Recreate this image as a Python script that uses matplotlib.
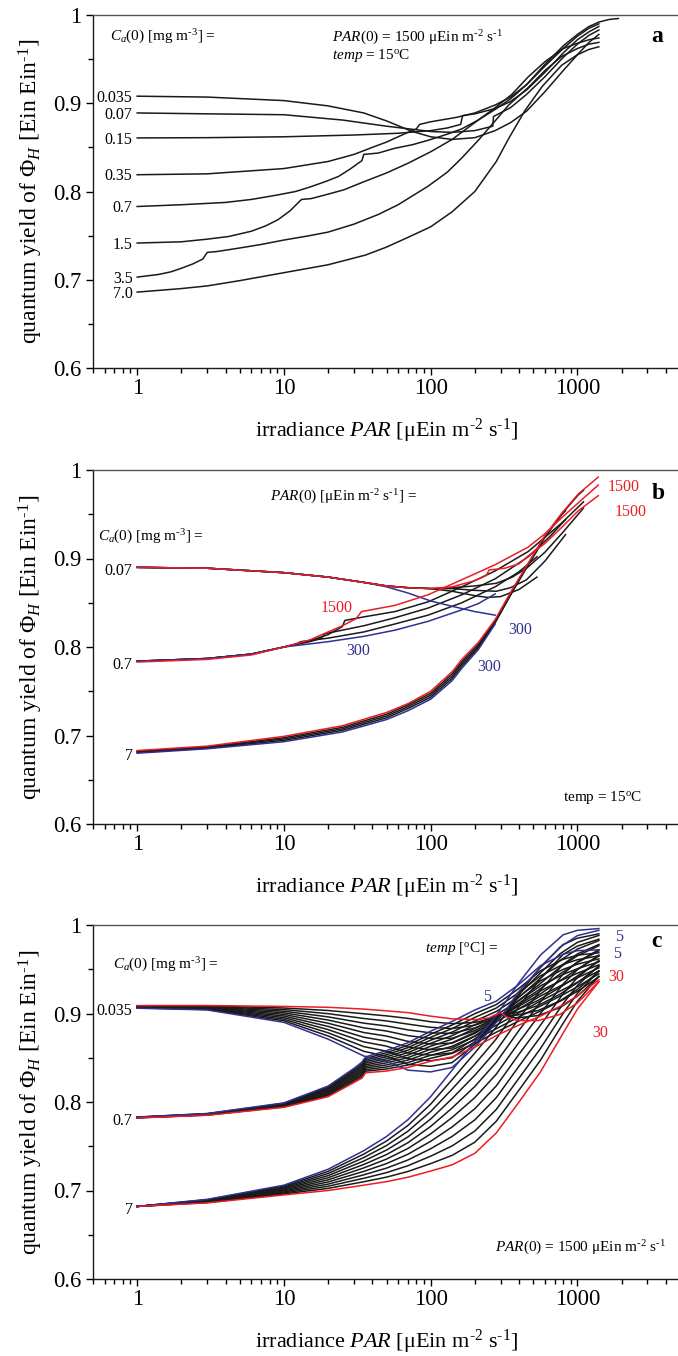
import matplotlib
matplotlib.use("Agg")
import matplotlib.pyplot as plt
from matplotlib.ticker import LogLocator, NullFormatter, FixedLocator, FuncFormatter

plt.rcParams['font.family'] = ['Liberation Serif', 'DejaVu Serif']
plt.rcParams['mathtext.fontset'] = 'custom'
plt.rcParams['mathtext.rm'] = 'Liberation Serif'
plt.rcParams['mathtext.it'] = 'Liberation Serif:italic'
plt.rcParams['mathtext.bf'] = 'Liberation Serif:bold'

BLACK = '#1a1a1a'
BLUE = '#2e3192'
RED = '#ed1c24'

# ---------------- panel a : PAR(0)=1500, temp=15 C, various Ca(0) ----------------
a_labels = ['0.035', '0.07', '0.15', '0.35', '0.7', '1.5', '3.5', '7.0']
a_0035_P = [1, 3, 10, 20, 35, 50, 75, 100, 140, 200, 275, 350, 450, 600, 800, 1000, 1200, 1400]
a_0035_F = [0.908, 0.907, 0.903, 0.897, 0.889, 0.880, 0.868, 0.862, 0.859, 0.861, 0.869, 0.878, 0.891, 0.913, 0.937, 0.955, 0.969, 0.978]
a_007_P = [1, 3, 10, 25, 50, 100, 140, 200, 265, 268, 350, 450, 600, 800, 1000, 1200, 1400]
a_007_F = [0.889, 0.888, 0.887, 0.881, 0.874, 0.868, 0.867, 0.869, 0.874, 0.885, 0.895, 0.910, 0.930, 0.952, 0.967, 0.977, 0.983]
a_015_P = [1, 3, 10, 30, 60, 100, 130, 160, 165, 200, 275, 350, 450, 600, 800, 1000, 1200, 1400]
a_015_F = [0.8607, 0.861, 0.862, 0.864, 0.866, 0.869, 0.872, 0.876, 0.886, 0.888, 0.894, 0.902, 0.915, 0.935, 0.957, 0.972, 0.981, 0.987]
a_035_P = [1, 3, 10, 20, 30, 40, 50, 60, 70, 80, 84, 100, 150, 200, 275, 350, 450, 600, 800, 1000, 1200, 1400]
a_035_F = [0.819, 0.820, 0.826, 0.834, 0.842, 0.850, 0.856, 0.862, 0.867, 0.871, 0.876, 0.879, 0.884, 0.889, 0.898, 0.907, 0.921, 0.942, 0.962, 0.976, 0.985, 0.990]
a_07_P = [1, 2, 4, 6, 9, 12, 15, 19, 23.5, 28, 34, 35, 44, 57, 75, 96, 130, 163, 211, 275, 350, 450, 600, 800, 1000, 1200, 1400, 1650, 1900]
a_07_F = [0.783, 0.785, 0.7876, 0.791, 0.796, 0.800, 0.805, 0.811, 0.817, 0.825, 0.835, 0.842, 0.8436, 0.849, 0.853, 0.858, 0.865, 0.871, 0.881, 0.893, 0.905, 0.921, 0.944, 0.965, 0.978, 0.987, 0.992, 0.995, 0.996]
a_15_P = [1, 2, 3, 4.2, 6, 7.5, 9.1, 11, 12.8, 13.2, 15.4, 20, 25.7, 35, 50, 70, 100, 140, 196, 275, 357, 463, 600, 800, 1000, 1200, 1400]
a_15_F = [0.7416, 0.743, 0.746, 0.749, 0.755, 0.761, 0.768, 0.778, 0.789, 0.791, 0.792, 0.797, 0.802, 0.811, 0.821, 0.832, 0.845, 0.859, 0.877, 0.895, 0.910, 0.930, 0.947, 0.962, 0.968, 0.972, 0.974]
a_35_P = [1, 1.4, 1.7, 2.0, 2.4, 2.8, 3.0, 3.5, 5, 7, 10, 15, 20, 30, 44, 60, 96, 130, 163, 211, 275, 340, 463, 600, 780, 1000, 1200, 1400]
a_35_F = [0.703, 0.706, 0.709, 0.713, 0.718, 0.7235, 0.731, 0.732, 0.736, 0.740, 0.745, 0.750, 0.754, 0.763, 0.774, 0.785, 0.806, 0.822, 0.838, 0.858, 0.880, 0.898, 0.918, 0.937, 0.953, 0.962, 0.967, 0.969]
a_70_P = [1, 2, 3, 5, 10, 20, 36, 50, 70, 100, 140, 200, 280, 340, 440, 575, 780, 1000, 1200, 1400]
a_70_F = [0.686, 0.690, 0.693, 0.699, 0.708, 0.717, 0.728, 0.737, 0.748, 0.760, 0.777, 0.800, 0.834, 0.860, 0.892, 0.919, 0.943, 0.955, 0.961, 0.964]

# ---------------- panel b : temp=15 C, PAR(0)=300 (blue) ... 1500 (red) ----------------
b_labels = ['0.07', '0.7', '7']
b_par0 = [300, 600, 900, 1200, 1500]
b007_P = {
    300:  [1, 3, 10, 20, 35, 50, 70, 100, 140, 200, 275],
    600:  [1, 3, 10, 20, 35, 50, 70, 100, 140, 200, 245, 300, 400, 530],
    900:  [1, 3, 10, 20, 35, 50, 70, 100, 140, 200, 280, 350, 450, 600, 830],
    1200: [1, 3, 10, 20, 35, 50, 70, 100, 140, 200, 280, 360, 450, 600, 800, 1100],
    1500: [1, 3, 10, 20, 35, 50, 70, 100, 140, 200, 240, 250, 320, 400, 463, 600, 780, 1015, 1387],
}
b007_F = {
    300:  [0.890, 0.889, 0.884, 0.879, 0.873, 0.868, 0.861, 0.852, 0.846, 0.840, 0.836],
    600:  [0.890, 0.889, 0.884, 0.879, 0.873, 0.869, 0.867, 0.866, 0.863, 0.858, 0.856, 0.857, 0.865, 0.879],
    900:  [0.890, 0.889, 0.884, 0.879, 0.873, 0.869, 0.867, 0.866, 0.866, 0.864, 0.863, 0.867, 0.876, 0.897, 0.927],
    1200: [0.890, 0.889, 0.884, 0.879, 0.873, 0.869, 0.867, 0.866, 0.867, 0.869, 0.872, 0.879, 0.889, 0.907, 0.930, 0.957],
    1500: [0.890, 0.889, 0.884, 0.879, 0.873, 0.869, 0.867, 0.866, 0.868, 0.875, 0.881, 0.887, 0.889, 0.894, 0.903, 0.917, 0.935, 0.954, 0.971],
}
b07_P = {
    300:  [1, 3, 6, 10, 20, 35, 57, 96, 163, 211, 275],
    600:  [1, 3, 6, 10, 12, 13, 20, 35, 57, 96, 163, 275, 400, 530],
    900:  [1, 3, 6, 10, 15, 18, 19, 35, 57, 96, 163, 275, 463, 650, 830],
    1200: [1, 3, 6, 10, 15, 20, 25, 26, 35, 57, 96, 163, 275, 463, 780, 1100],
    1500: [1, 3, 6, 10, 15, 20, 25, 31, 33.8, 57, 96, 163, 275, 463, 601, 781, 1015, 1387],
}
b07_F = {
    300:  [0.784, 0.787, 0.792, 0.800, 0.806, 0.812, 0.819, 0.829, 0.842, 0.849, 0.860],
    600:  [0.784, 0.787, 0.792, 0.800, 0.803, 0.806, 0.810, 0.817, 0.826, 0.836, 0.850, 0.868, 0.885, 0.902],
    900:  [0.784, 0.787, 0.792, 0.800, 0.806, 0.810, 0.815, 0.824, 0.833, 0.844, 0.859, 0.877, 0.902, 0.925, 0.944],
    1200: [0.784, 0.787, 0.792, 0.800, 0.807, 0.814, 0.823, 0.830, 0.834, 0.840, 0.851, 0.868, 0.886, 0.908, 0.940, 0.964],
    1500: [0.783, 0.786, 0.791, 0.800, 0.808, 0.817, 0.824, 0.832, 0.840, 0.847, 0.859, 0.876, 0.893, 0.913, 0.928, 0.946, 0.963, 0.983],
}
b7_P = {
    300:  [1, 3, 10, 25, 50, 70, 100, 140, 163, 211, 275],
    600:  [1, 3, 10, 25, 50, 70, 100, 140, 163, 211, 275, 357, 463, 550],
    900:  [1, 3, 10, 25, 50, 70, 100, 140, 163, 211, 275, 357, 463, 601, 781, 830],
    1200: [1, 3, 10, 25, 50, 70, 100, 140, 163, 211, 275, 357, 463, 601, 781, 1015, 1100],
    1500: [1, 3, 10, 25, 50, 70, 100, 140, 163, 211, 275, 357, 463, 601, 781, 1015, 1387],
}
b7_F = {
    300:  [0.680, 0.685, 0.693, 0.704, 0.718, 0.728, 0.741, 0.762, 0.776, 0.797, 0.826],
    600:  [0.6808, 0.6857, 0.6945, 0.7058, 0.7200, 0.7305, 0.7432, 0.7645, 0.7785, 0.7990, 0.8273, 0.8610, 0.8930, 0.913],
    900:  [0.6815, 0.6865, 0.6960, 0.7075, 0.7220, 0.7325, 0.7455, 0.7670, 0.7810, 0.8010, 0.8285, 0.8620, 0.8935, 0.9242, 0.9495, 0.954],
    1200: [0.6823, 0.6872, 0.6975, 0.7092, 0.7240, 0.7345, 0.7477, 0.7695, 0.7835, 0.8030, 0.8297, 0.8630, 0.8942, 0.9250, 0.9502, 0.9720, 0.977],
    1500: [0.683, 0.688, 0.699, 0.711, 0.726, 0.736, 0.750, 0.772, 0.786, 0.805, 0.831, 0.864, 0.895, 0.926, 0.951, 0.973, 0.992],
}

# ---------------- panel c : PAR(0)=1500, temp 5 (blue) ... 30 (red) ----------------
c_labels = ['0.035', '0.7', '7']
c_temps = [5, 7.5, 10, 12.5, 15, 17.5, 20, 22.5, 25, 27.5, 30]
c0035_P = [1, 3, 10, 20, 35, 50, 70, 100, 140, 200, 250, 280, 300, 330, 390, 540, 760, 1000, 1400]
c0035_F = {
    5:    [.906, .904, .890, .871, .852, .846, .836, .834, .839, .862, .880, .890, .896, .905, .923, .949, .975, .988, .994],
    7.5:  [.9063, .9045, .8918, .8746, .8573, .8517, .8425, .8403, .8445, .8651, .8815, .8909, .8965, .9041, .9199, .9433, .9674, .9804, .9882],
    10:   [.9066, .905, .8936, .8782, .8626, .8574, .849, .8466, .85, .8682, .883, .8918, .897, .9032, .9168, .9376, .9598, .9728, .9824],
    12.5: [.9069, .9055, .8954, .8818, .8679, .8631, .8555, .8529, .8555, .8713, .8845, .8927, .8975, .9023, .9137, .9319, .9522, .9652, .9766],
    15:   [.9072, .906, .8972, .8854, .8732, .8688, .862, .8592, .861, .8744, .886, .8936, .898, .9014, .9106, .9262, .9446, .9576, .9708],
    17.5: [.9075, .9065, .899, .889, .8785, .8745, .8685, .8655, .8665, .8775, .8875, .8945, .8985, .9005, .9075, .9205, .937, .95, .965],
    20:   [.9078, .907, .9008, .8926, .8838, .8802, .875, .8718, .872, .8806, .889, .8954, .899, .8996, .9044, .9148, .9294, .9424, .9592],
    22.5: [.9081, .9075, .9026, .8962, .8891, .8859, .8815, .8781, .8775, .8837, .8905, .8963, .8995, .8987, .9013, .9091, .9218, .9348, .9534],
    25:   [.9084, .908, .9044, .8998, .8944, .8916, .888, .8844, .883, .8868, .892, .8972, .900, .8978, .8982, .9034, .9142, .9272, .9476],
    27.5: [.9087, .9085, .9062, .9034, .8997, .8973, .8945, .8907, .8885, .8899, .8935, .8981, .9005, .8969, .8951, .8977, .9066, .9196, .9418],
    30:   [.909, .909, .908, .907, .905, .903, .901, .897, .894, .893, .895, .899, .901, .896, .892, .892, .899, .912, .936],
}
c07_P = [1, 3, 10, 20, 30, 34, 36, 50, 70, 100, 140, 200, 280, 400, 560, 800, 1000, 1400]
c07_F = {
    5:    [.783, .787, .799, .818, .838, .845, .851, .858, .867, .880, .891, .904, .914, .933, .954, .967, .971, .972],
    7.5:  [.7829, .7868, .7985, .8168, .8364, .8432, .8492, .8557, .8642, .8766, .887, .8998, .9101, .9284, .9483, .9613, .9659, .9686],
    10:   [.7828, .7866, .798, .8156, .8348, .8414, .8474, .8534, .8614, .8732, .883, .8956, .9062, .9238, .9426, .9556, .9608, .9652],
    12.5: [.7827, .7864, .7975, .8144, .8332, .8396, .8456, .8511, .8586, .8698, .879, .8914, .9023, .9192, .9369, .9499, .9557, .9618],
    15:   [.7826, .7862, .797, .8132, .8316, .8378, .8438, .8488, .8558, .8664, .875, .8872, .8984, .9146, .9312, .9442, .9506, .9584],
    17.5: [.7825, .786, .7965, .812, .830, .836, .842, .8465, .853, .863, .871, .883, .8945, .910, .9255, .9385, .9455, .955],
    20:   [.7824, .7858, .796, .8108, .8284, .8342, .8402, .8442, .8502, .8596, .867, .8788, .8906, .9054, .9198, .9328, .9404, .9516],
    22.5: [.7823, .7856, .7955, .8096, .8268, .8324, .8384, .8419, .8474, .8562, .863, .8746, .8867, .9008, .9141, .9271, .9353, .9482],
    25:   [.7822, .7854, .795, .8084, .8252, .8306, .8366, .8396, .8446, .8528, .859, .8704, .8828, .8962, .9084, .9214, .9302, .9448],
    27.5: [.7821, .7852, .7945, .8072, .8236, .8288, .8348, .8373, .8418, .8494, .855, .8662, .8789, .8916, .9027, .9157, .9251, .9414],
    30:   [.782, .785, .794, .806, .822, .827, .833, .835, .839, .846, .851, .862, .875, .887, .897, .910, .920, .938],
}
c7_P = [1, 3, 10, 20, 35, 50, 70, 100, 140, 200, 280, 400, 560, 800, 1000, 1400]
c7_F = {
    5:    [.682, .690, .706, .724, .745, .761, .780, .806, .836, .868, .898, .935, .966, .989, .994, .996],
    7.5:  [.682, .6896, .7049, .7216, .7411, .7559, .7735, .7976, .8253, .8554, .8847, .9215, .9528, .9779, .9851, .990],
    10:   [.682, .6892, .7038, .7192, .7372, .7508, .767, .7892, .8146, .8428, .8714, .908, .9396, .9668, .9762, .984],
    12.5: [.682, .6888, .7027, .7168, .7333, .7457, .7605, .7808, .8039, .8302, .8581, .8945, .9264, .9557, .9673, .978],
    15:   [.682, .6884, .7016, .7144, .7294, .7406, .754, .7724, .7932, .8176, .8448, .881, .9132, .9446, .9584, .972],
    17.5: [.682, .688, .7005, .712, .7255, .7355, .7475, .764, .7825, .805, .8315, .8675, .900, .9335, .9495, .966],
    20:   [.682, .6876, .6994, .7096, .7216, .7304, .741, .7556, .7718, .7924, .8182, .854, .8868, .9224, .9406, .960],
    22.5: [.682, .6872, .6983, .7072, .7177, .7253, .7345, .7472, .7611, .7798, .8049, .8405, .8736, .9113, .9317, .954],
    25:   [.682, .6868, .6972, .7048, .7138, .7202, .728, .7388, .7504, .7672, .7916, .827, .8604, .9002, .9228, .948],
    27.5: [.682, .6864, .6961, .7024, .7099, .7151, .7215, .7304, .7397, .7546, .7783, .8135, .8472, .8891, .9139, .942],
    30:   [.682, .686, .695, .700, .706, .710, .715, .722, .729, .742, .765, .800, .834, .878, .905, .936],
}

# ---------------------------------------------------------------------------------
W, H = 678, 1356
fig = plt.figure(figsize=(W / 100, H / 100), dpi=100)

HY = '\u2010'  # hyphen used as superscript minus, as in the original
XLAB = r'irradiance $PAR$ [$\mathregular{\mu}$Ein m$^{\mathregular{' + HY + r'2}}$ s$^{\mathregular{' + HY + r'1}}$]'
YLAB = r'quantum yield of $\mathregular{\Phi}_H$ [Ein Ein$^{\mathregular{' + HY + r'1}}$]'
CA = r'$C_a$(0) [mg m$^{\mathregular{' + HY + r'3}}$] ='
PAR0 = r'$PAR$(0) = 1500 $\mathregular{\mu}$Ein m$^{\mathregular{' + HY + r'2}}$ s$^{\mathregular{' + HY + r'1}}$'
PAR0B = r'$PAR$(0) [$\mathregular{\mu}$Ein m$^{\mathregular{' + HY + r'2}}$ s$^{\mathregular{' + HY + r'1}}$] ='


def make_axes(top_px, bot_px):
    left, right = 93, 680
    ax = fig.add_axes([left / W, 1 - bot_px / H, (right - left) / W, (bot_px - top_px) / H])
    ax.set_xscale('log')
    ax.set_xlim(0.5, 5000)
    ax.set_ylim(0.6, 1.0)
    ax.spines['right'].set_visible(False)
    for s in ['left', 'bottom', 'top']:
        ax.spines[s].set_linewidth(1.0)
        ax.spines[s].set_color(BLACK)
    ax.spines['top'].set_color('#555555')
    ax.yaxis.set_major_locator(FixedLocator([0.6, 0.7, 0.8, 0.9, 1.0]))
    ax.yaxis.set_minor_locator(FixedLocator([0.65, 0.75, 0.85, 0.95]))
    ax.yaxis.set_major_formatter(FuncFormatter(lambda v, p: '1' if abs(v - 1) < 1e-9 else f'{v:.1f}'))
    ax.xaxis.set_major_locator(FixedLocator([1, 10, 100, 1000]))
    ax.xaxis.set_major_formatter(FuncFormatter(lambda v, p: f'{int(round(v))}'))
    ax.xaxis.set_minor_locator(LogLocator(base=10, subs=range(2, 10), numticks=20))
    ax.xaxis.set_minor_formatter(NullFormatter())
    ax.tick_params(which='major', direction='out', length=5.2, width=1.0, labelsize=16.3, top=False, right=False)
    ax.tick_params(which='minor', direction='out', length=3.6, width=1.0, top=False, right=False)
    ax.tick_params(axis='x', which='major', pad=2)
    ax.tick_params(axis='y', which='major', pad=3)
    ax.set_ylabel(YLAB, fontsize=17, labelpad=6)
    ax.set_xlabel(XLAB, fontsize=16, labelpad=12.5)
    ax.patch.set_alpha(0)
    return ax

LW = 1.1
FS = 11.5
FS2 = 11

def colour(is_blue, is_red):
    return BLUE if is_blue else (RED if is_red else BLACK)

# ---- panel a
axa = make_axes(15, 368)
a_curves = [(a_0035_P, a_0035_F), (a_007_P, a_007_F), (a_015_P, a_015_F), (a_035_P, a_035_F),
            (a_07_P, a_07_F), (a_15_P, a_15_F), (a_35_P, a_35_F), (a_70_P, a_70_F)]
for lab, (P, F) in zip(a_labels, a_curves):
    axa.plot(P, F, color=BLACK, lw=LW)
    axa.text(0.93, F[0] - 0.002, lab, ha='right', va='center', fontsize=FS)
axa.text(0.029, 0.938, CA, transform=axa.transAxes, fontsize=FS2, va='center')
axa.text(0.407, 0.934, PAR0, transform=axa.transAxes, fontsize=FS2, va='center')
axa.text(0.407, 0.886, r'$temp$ = 15$^{\mathregular{o}}$C', transform=axa.transAxes, fontsize=FS2, va='center')
axa.text(0.951, 0.94, 'a', transform=axa.transAxes, fontsize=17, fontweight='bold', va='center')

# ---- panel b
axb = make_axes(470, 824)
for p0 in [600, 900, 1200, 300, 1500]:
    col = colour(p0 == 300, p0 == 1500)
    axb.plot(b007_P[p0], b007_F[p0], color=col, lw=LW)
    axb.plot(b07_P[p0], b07_F[p0], color=col, lw=LW)
    axb.plot(b7_P[p0], b7_F[p0], color=col, lw=LW)
for lab, F0 in zip(b_labels, [0.890, 0.784, 0.681]):
    axb.text(0.93, F0 - 0.004, lab, ha='right', va='center', fontsize=FS)
axb.text(0.302, 0.924, PAR0B, transform=axb.transAxes, fontsize=FS2, va='center')
axb.text(0.0085, 0.811, CA, transform=axb.transAxes, fontsize=FS2, va='center')
axb.text(0.951, 0.935, 'b', transform=axb.transAxes, fontsize=17, fontweight='bold', va='center')
axb.text(0.80, 0.076, r'temp = 15$^{\mathregular{o}}$C', transform=axb.transAxes, fontsize=FS2, va='center')
axb.text(0.876, 0.953, '1500', color=RED, fontsize=FS, va='center', transform=axb.transAxes)
axb.text(0.889, 0.882, '1500', color=RED, fontsize=FS, va='center', transform=axb.transAxes)
axb.text(0.387, 0.609, '1500', color=RED, fontsize=FS, va='center', transform=axb.transAxes)
axb.text(0.707, 0.548, '300', color=BLUE, fontsize=FS, va='center', transform=axb.transAxes)
axb.text(0.654, 0.444, '300', color=BLUE, fontsize=FS, va='center', transform=axb.transAxes)
axb.text(0.431, 0.490, '300', color=BLUE, fontsize=FS, va='center', transform=axb.transAxes)

# ---- panel c
axc = make_axes(925, 1279)
draw_order = [t for t in c_temps if t not in (5, 30)] + [5, 30]
for t in draw_order:
    col = colour(t == 5, t == 30)
    axc.plot(c0035_P, c0035_F[t], color=col, lw=LW)
    axc.plot(c07_P, c07_F[t], color=col, lw=LW)
    axc.plot(c7_P, c7_F[t], color=col, lw=LW)
for lab, F0 in zip(c_labels, [0.907, 0.783, 0.682]):
    axc.text(0.93, F0 - 0.004, lab, ha='right', va='center', fontsize=FS)
axc.text(0.566, 0.935, r'$temp$ [$^{\mathregular{o}}$C] =', transform=axc.transAxes, fontsize=FS2, va='center')
axc.text(0.034, 0.887, CA, transform=axc.transAxes, fontsize=FS2, va='center')
axc.text(0.951, 0.952, 'c', transform=axc.transAxes, fontsize=17, fontweight='bold', va='center')
axc.text(0.685, 0.088, PAR0, transform=axc.transAxes, fontsize=FS2, va='center')
axc.text(0.889, 0.967, '5', color=BLUE, fontsize=FS, va='center', transform=axc.transAxes)
axc.text(0.886, 0.917, '5', color=BLUE, fontsize=FS, va='center', transform=axc.transAxes)
axc.text(0.664, 0.797, '5', color=BLUE, fontsize=FS, va='center', transform=axc.transAxes)
axc.text(0.877, 0.854, '30', color=RED, fontsize=FS, va='center', transform=axc.transAxes)
axc.text(0.850, 0.695, '30', color=RED, fontsize=FS, va='center', transform=axc.transAxes)

fig.savefig('out.png', dpi=100)
